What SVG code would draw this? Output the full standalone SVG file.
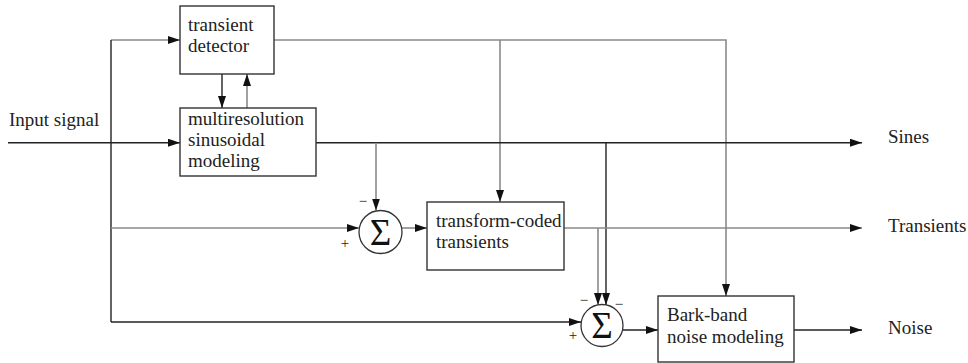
<svg xmlns="http://www.w3.org/2000/svg" width="968" height="363" viewBox="0 0 968 363">
<style>
.box{fill:#fff;stroke:#333;stroke-width:1.4}
.t{font-family:"Liberation Serif","Times New Roman",serif;font-size:19px;fill:#222}
.sig{font-family:"Liberation Serif","Times New Roman",serif;font-size:37px;fill:#111;text-anchor:middle}
.sg{font-family:"Liberation Serif","Times New Roman",serif;font-size:15px;fill:#222;text-anchor:middle}
.k{fill:none;stroke:#222;stroke-width:1.4}
.g{fill:none;stroke:#8a8a8a;stroke-width:1.6}
.a{marker-end:url(#ah)}
</style>
<defs>
<marker id="ah" markerUnits="userSpaceOnUse" markerWidth="13" markerHeight="9" refX="12" refY="4" orient="auto">
<path d="M0,0 L12,4 L0,8 z" fill="#111"/>
</marker>
</defs>
<g id="connectors">
<path class="k a" d="M8,142.7 H180"/>
<path class="g a" d="M111,40 H180"/>
<path class="k" d="M111,40 V322"/>
<path class="k a" d="M111,322 H581"/>
<path class="g a" d="M111,228 H359"/>
<path class="k a" d="M222,74 V108"/>
<path class="g a" d="M247,108 V74"/>
<path class="g a" d="M274,40 H726 V296"/>
<path class="g a" d="M500,40 V202"/>
<path class="k a" d="M316,142.7 H862"/>
<path class="g a" d="M376,142.7 V210.5"/>
<path class="k a" d="M606,142.7 V305"/>
<path class="g a" d="M402,228 H427"/>
<path class="g a" d="M564,228 H862"/>
<path class="g a" d="M598,228 V305"/>
<path class="k a" d="M623,330 H658"/>
<path class="k a" d="M794,330 H862"/>
</g>
<g id="input-label"><text class="t" x="9" y="126">Input signal</text></g>
<g id="transient-detector">
<rect class="box" x="180" y="6" width="94" height="68"/>
<text class="t" x="188" y="31">transient</text>
<text class="t" x="188" y="52">detector</text>
</g>
<g id="sinusoidal-modeling">
<rect class="box" x="180" y="108" width="136" height="68"/>
<text class="t" x="188" y="125">multiresolution</text>
<text class="t" x="188" y="146">sinusoidal</text>
<text class="t" x="188" y="167">modeling</text>
</g>
<g id="sum1">
<circle cx="380.5" cy="232" r="21.5" fill="#fff" stroke="#333" stroke-width="1.3"/>
<text class="sig" x="380.5" y="244.5">Σ</text>
<text class="sg" x="363" y="206">−</text>
<text class="sg" x="345" y="248">+</text>
</g>
<g id="transform-coded">
<rect class="box" x="427" y="202" width="137" height="68"/>
<text class="t" x="436" y="227">transform-coded</text>
<text class="t" x="436" y="248">transients</text>
</g>
<g id="sum2">
<circle cx="602" cy="325.5" r="21" fill="#fff" stroke="#333" stroke-width="1.3"/>
<text class="sig" x="602" y="338">Σ</text>
<text class="sg" x="584" y="305">−</text>
<text class="sg" x="619" y="309">−</text>
<text class="sg" x="573" y="340">+</text>
</g>
<g id="bark-band">
<rect class="box" x="658" y="296" width="136" height="66"/>
<text class="t" x="667" y="321">Bark-band</text>
<text class="t" x="667" y="343">noise modeling</text>
</g>
<g id="outputs">
<text class="t" x="888" y="143">Sines</text>
<text class="t" x="888" y="232">Transients</text>
<text class="t" x="888" y="334">Noise</text>
</g>
</svg>
